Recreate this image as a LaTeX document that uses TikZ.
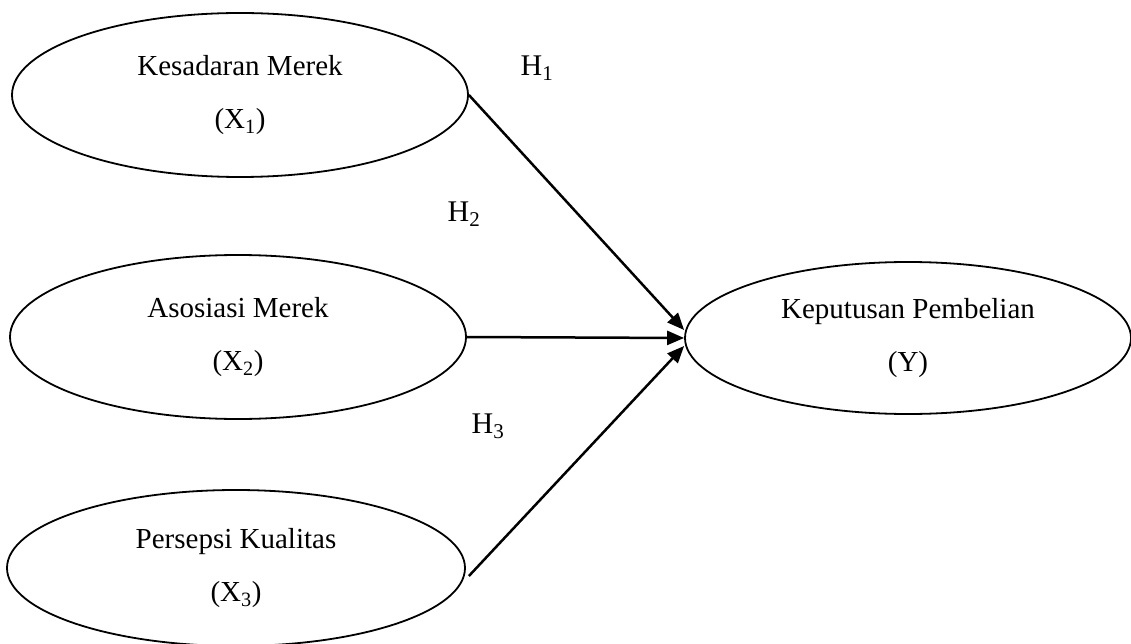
\documentclass[tikz,border=0pt]{standalone}
\usepackage{fontspec}
\setmainfont{Liberation Serif}
\usetikzlibrary{positioning, arrows.meta, shapes.geometric}

\begin{document}
\begin{tikzpicture}[
    x=1pt, y=-1pt,
    var/.style={ellipse, draw, line width=1.8pt, inner sep=0pt, align=center,
        font=\fontsize{29}{53}\selectfont},
    hyp/.style={font=\fontsize{30}{36}\selectfont, inner sep=0pt},
    link/.style={-{Triangle[length=17pt, width=14pt]}, line width=2.5pt}
]
    \useasboundingbox (0,0) rectangle (1131,644);

    \node[var, minimum width=456pt, minimum height=164pt] (x1) at (240,95) {Kesadaran Merek\\(X\textsubscript{1})};
    \node[var, minimum width=456pt, minimum height=164pt] (x2) at (238,337) {Asosiasi Merek\\(X\textsubscript{2})};
    \node[var, minimum width=458pt, minimum height=156pt] (x3) at (236,568) {Persepsi Kualitas\\(X\textsubscript{3})};
    \node[var, minimum width=446pt, minimum height=152pt] (y) at (908,338) {Keputusan Pembelian\\(Y)};

    \node[hyp] (h1) at (537,68) {H\textsubscript{1}};
    \node[hyp] (h2) at (464,214) {H\textsubscript{2}};
    \node[hyp] (h3) at (488,426) {H\textsubscript{3}};

    \draw[link] (x1.east) -- ([yshift=8pt]y.west);
    \draw[link] (x2.east) -- (y.west);
    \draw[link] ([xshift=3pt, yshift=-8pt]x3.east) -- ([yshift=-8pt]y.west);
\end{tikzpicture}
\end{document}
